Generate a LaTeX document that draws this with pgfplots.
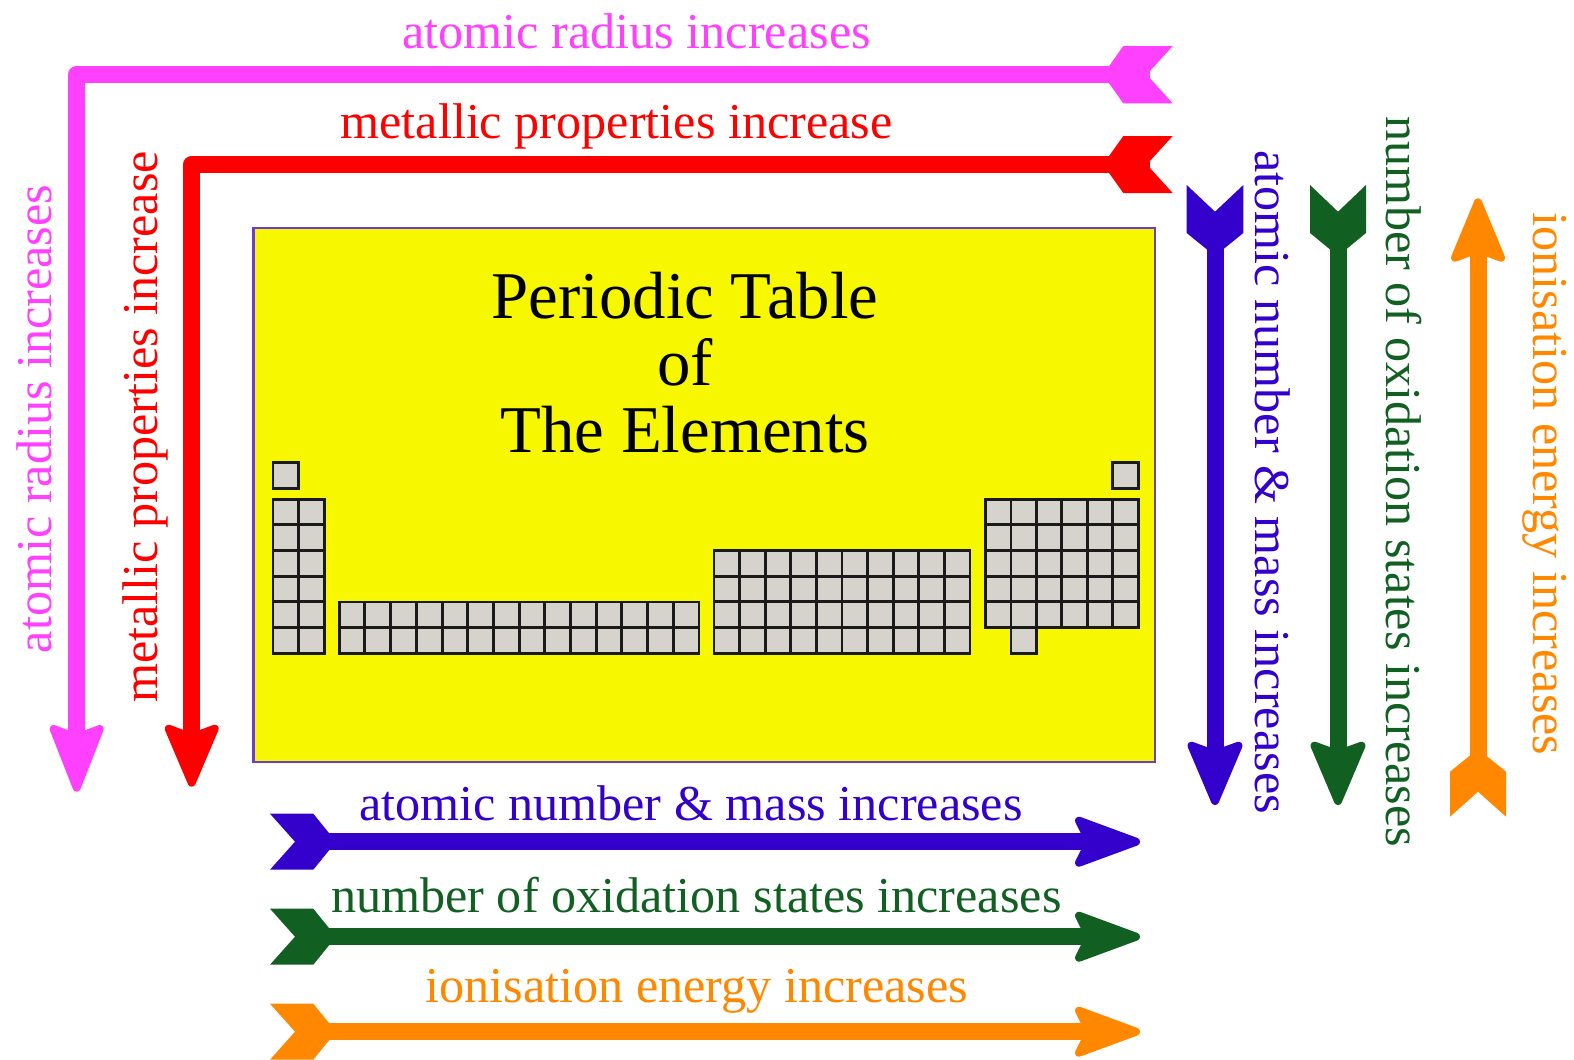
\documentclass[border=0pt]{standalone}
\usepackage{pgfplots}
\pgfplotsset{compat=1.18}
\usepackage{fontspec}
\setmainfont{Liberation Serif}
\definecolor{cpink}{HTML}{FF40FF}
\definecolor{cred}{HTML}{FF0000}
\definecolor{cblue}{HTML}{3300CC}
\definecolor{cgreen}{HTML}{116022}
\definecolor{corange}{HTML}{FF8800}
\definecolor{cyellow}{HTML}{F7F700}
\definecolor{cborder}{HTML}{6A3FD0}
\definecolor{ccell}{HTML}{D6D3CC}
\definecolor{cgrid}{HTML}{1A1A1A}
\begin{document}
\begin{tikzpicture}
\begin{axis}[x=0.5pt, y=0.5pt, y dir=reverse, xmin=0, xmax=1574, ymin=0, ymax=1060, hide axis, clip=true,
  head/.style={line width=4pt, line join=round, line cap=round},
  feather/.style={draw=none},
  shaft/.style={line width=8.5pt, line join=round, line cap=butt}]
% yellow box
\addplot[fill=cyellow, draw=cborder, line width=1.1pt] coordinates {(253.5,228) (1155,228) (1155,762) (253.5,762)} -- cycle;
% cells
\addplot[only marks, mark=square*, mark size=6.4pt, mark options={fill=ccell, draw=cgrid, line width=1.45pt}] coordinates {
(285.8,475.3) (1125.5,475.3)
(285.8,512.1) (311.4,512.1) (285.8,537.8) (311.4,537.8) (285.8,563.5) (311.4,563.5)
(285.8,589.1) (311.4,589.1) (285.8,614.8) (311.4,614.8) (285.8,640.5) (311.4,640.5)
(352.1,614.8) (377.8,614.8) (403.5,614.8) (429.2,614.8) (454.9,614.8) (480.6,614.8) (506.3,614.8)
(532.0,614.8) (557.7,614.8) (583.4,614.8) (609.1,614.8) (634.8,614.8) (660.5,614.8) (686.2,614.8)
(352.1,640.5) (377.8,640.5) (403.5,640.5) (429.2,640.5) (454.9,640.5) (480.6,640.5) (506.3,640.5)
(532.0,640.5) (557.7,640.5) (583.4,640.5) (609.1,640.5) (634.8,640.5) (660.5,640.5) (686.2,640.5)
(726.8,563.5) (752.4,563.5) (778.0,563.5) (803.6,563.5) (829.2,563.5) (854.8,563.5) (880.4,563.5) (906.0,563.5) (931.6,563.5) (957.2,563.5)
(726.8,589.1) (752.4,589.1) (778.0,589.1) (803.6,589.1) (829.2,589.1) (854.8,589.1) (880.4,589.1) (906.0,589.1) (931.6,589.1) (957.2,589.1)
(726.8,614.8) (752.4,614.8) (778.0,614.8) (803.6,614.8) (829.2,614.8) (854.8,614.8) (880.4,614.8) (906.0,614.8) (931.6,614.8) (957.2,614.8)
(726.8,640.5) (752.4,640.5) (778.0,640.5) (803.6,640.5) (829.2,640.5) (854.8,640.5) (880.4,640.5) (906.0,640.5) (931.6,640.5) (957.2,640.5)
(998.4,512.1) (1023.8,512.1) (1049.2,512.1) (1074.7,512.1) (1100.1,512.1) (1125.5,512.1)
(998.4,537.8) (1023.8,537.8) (1049.2,537.8) (1074.7,537.8) (1100.1,537.8) (1125.5,537.8)
(998.4,563.5) (1023.8,563.5) (1049.2,563.5) (1074.7,563.5) (1100.1,563.5) (1125.5,563.5)
(998.4,589.1) (1023.8,589.1) (1049.2,589.1) (1074.7,589.1) (1100.1,589.1) (1125.5,589.1)
(998.4,614.8) (1023.8,614.8) (1049.2,614.8) (1074.7,614.8) (1100.1,614.8) (1125.5,614.8)
(1023.8,640.5)
};
% title
\node[anchor=base, font=\fontsize{33.4}{35}\selectfont] at (axis cs:685,318) {Periodic Table};
\node[anchor=base, font=\fontsize{33.4}{35}\selectfont] at (axis cs:685,385) {of};
\node[anchor=base, font=\fontsize{33.4}{35}\selectfont] at (axis cs:685,452) {The Elements};

% pink arrow
\addplot[cpink, shaft] coordinates {(1150,74.7) (76.7,74.7) (76.7,740)};
\addplot[cpink, fill=cpink, feather] coordinates {(1172.7,46) (1123.3,46) (1103,74.7) (1123.3,103.4) (1172.7,103.4) (1146.7,74.7)} -- cycle;
\addplot[cpink, fill=cpink, head] coordinates {(76.7,787.7) (99.7,729) (83.7,735) (69.7,735) (53.7,729)} -- cycle;
% red arrow
\addplot[cred, shaft] coordinates {(1150,164.5) (191.7,164.5) (191.7,735)};
\addplot[cred, fill=cred, feather] coordinates {(1172.7,136) (1123.3,136) (1103,164.5) (1123.3,193) (1172.7,193) (1146.7,164.5)} -- cycle;
\addplot[cred, fill=cred, head] coordinates {(191.7,782.7) (214.7,728.7) (198.7,734.7) (184.7,734.7) (168.7,728.7)} -- cycle;
% blue vertical
\addplot[cblue, shaft] coordinates {(1215,220) (1215,755)};
\addplot[cblue, fill=cblue, feather] coordinates {(1186.7,185) (1215,211.7) (1243.3,185) (1243.3,233) (1215,256) (1186.7,233)} -- cycle;
\addplot[cblue, fill=cblue, head] coordinates {(1215,801) (1238.5,745.7) (1222,751.7) (1208,751.7) (1191.5,745.7)} -- cycle;
% green vertical
\addplot[cgreen, shaft] coordinates {(1338,220) (1338,755)};
\addplot[cgreen, fill=cgreen, feather] coordinates {(1310,185) (1338,211.7) (1366,185) (1366,233) (1338,256) (1310,233)} -- cycle;
\addplot[cgreen, fill=cgreen, head] coordinates {(1338,801) (1361.5,745.7) (1345,751.7) (1331,751.7) (1314.5,745.7)} -- cycle;
% orange vertical (up)
\addplot[corange, shaft] coordinates {(1478,250) (1478,785)};
\addplot[corange, fill=corange, feather] coordinates {(1450,816.7) (1478,791.7) (1506,816.7) (1506,771.7) (1478,749) (1450,771.7)} -- cycle;
\addplot[corange, fill=corange, head] coordinates {(1478,202.3) (1501,257.7) (1485,251.7) (1471,251.7) (1455,257.7)} -- cycle;
% bottom arrows
\addplot[cblue, shaft] coordinates {(310,841.7) (1090,841.7)};
\addplot[cblue, fill=cblue, feather] coordinates {(270,813.7) (295,841.7) (270,869.7) (313.3,869.7) (336,841.7) (313.3,813.7)} -- cycle;
\addplot[cblue, fill=cblue, head] coordinates {(1136,841.7) (1079,820.7) (1086,834.7) (1086,848.7) (1079,862.7)} -- cycle;
\addplot[cgreen, shaft] coordinates {(310,936.7) (1090,936.7)};
\addplot[cgreen, fill=cgreen, feather] coordinates {(270,908.7) (295,936.7) (270,964.7) (313.3,964.7) (336,936.7) (313.3,908.7)} -- cycle;
\addplot[cgreen, fill=cgreen, head] coordinates {(1136,936.7) (1079,915.7) (1086,929.7) (1086,943.7) (1079,957.7)} -- cycle;
\addplot[corange, shaft] coordinates {(310,1031.7) (1090,1031.7)};
\addplot[corange, fill=corange, feather] coordinates {(270,1003.7) (295,1031.7) (270,1059.7) (313.3,1059.7) (336,1031.7) (313.3,1003.7)} -- cycle;
\addplot[corange, fill=corange, head] coordinates {(1136,1031.7) (1079,1010.7) (1086,1024.7) (1086,1038.7) (1079,1052.7)} -- cycle;

% horizontal texts
\node[anchor=base, text=cpink, font=\fontsize{25.1}{28}\selectfont] at (axis cs:636.6,48) {atomic radius increases};
\node[anchor=base, text=cred, font=\fontsize{25.1}{28}\selectfont] at (axis cs:616.5,138.5) {metallic properties increase};
\node[anchor=base, text=cblue, font=\fontsize{25.1}{28}\selectfont] at (axis cs:690.8,820) {atomic number \& mass increases};
\node[anchor=base, text=cgreen, font=\fontsize{25.1}{28}\selectfont] at (axis cs:696.3,912) {number of oxidation states increases};
\node[anchor=base, text=corange, font=\fontsize{25.1}{28}\selectfont] at (axis cs:696.8,1002) {ionisation energy increases};
% vertical texts
\node[anchor=base, rotate=90, text=cpink, font=\fontsize{25.1}{28}\selectfont] at (axis cs:51,419) {atomic radius increases};
\node[anchor=base, rotate=90, text=cred, font=\fontsize{25.1}{28}\selectfont] at (axis cs:157,427) {metallic properties increase};
\node[anchor=base, rotate=-90, text=cblue, font=\fontsize{25.1}{28}\selectfont] at (axis cs:1255,482) {atomic number \& mass increases};
\node[anchor=base, rotate=-90, text=cgreen, font=\fontsize{25.1}{28}\selectfont] at (axis cs:1386,482) {number of oxidation states increases};
\node[anchor=base, rotate=-90, text=corange, font=\fontsize{25.1}{28}\selectfont] at (axis cs:1533,484) {ionisation energy increases};
\end{axis}
\pgfresetboundingbox
\path[use as bounding box] (current axis.south west) rectangle (current axis.north east);
\end{tikzpicture}
\end{document}
